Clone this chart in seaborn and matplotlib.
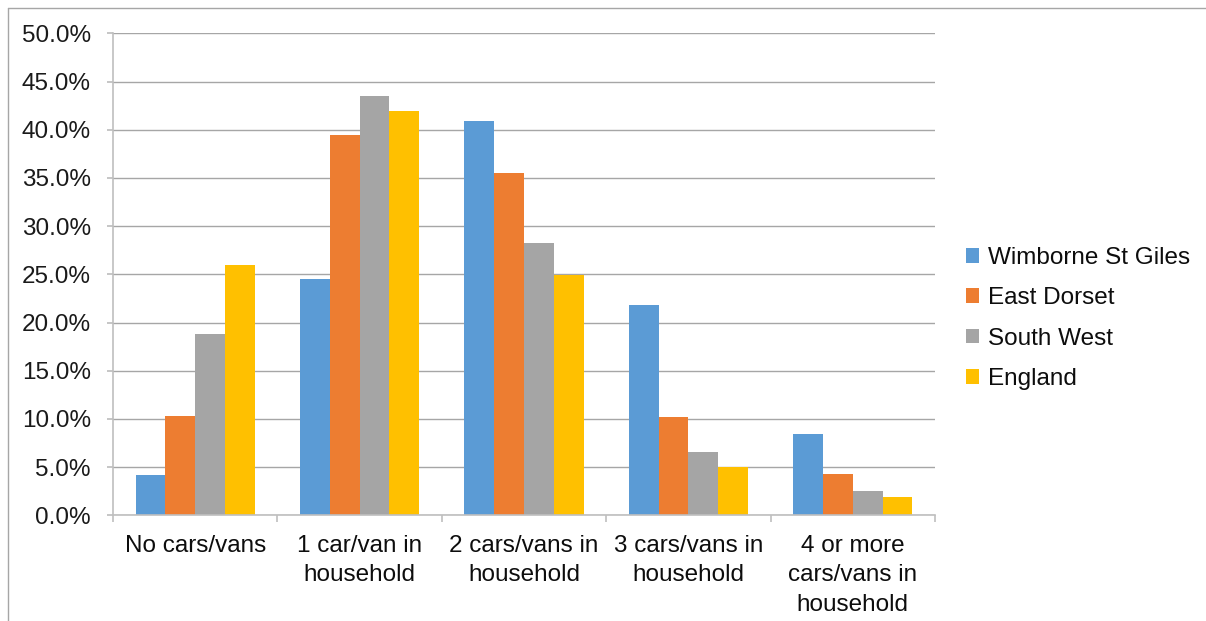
import matplotlib
matplotlib.use("Agg")
import matplotlib.pyplot as plt
import seaborn as sns
import pandas as pd
from matplotlib.ticker import FuncFormatter, MultipleLocator, FixedLocator
from matplotlib.lines import Line2D

categories = ["No cars/vans", "1 car/van in\nhousehold", "2 cars/vans in\nhousehold",
              "3 cars/vans in\nhousehold", "4 or more\ncars/vans in\nhousehold"]
series = ["Wimborne St Giles", "East Dorset", "South West", "England"]
wimborne = [4.2, 24.5, 40.9, 21.8, 8.4]
east_dorset = [10.3, 39.5, 35.5, 10.2, 4.3]
south_west = [18.8, 43.5, 28.2, 6.6, 2.5]
england = [26.0, 41.9, 24.9, 5.0, 1.9]
colors = ["#5B9BD5", "#ED7D31", "#A5A5A5", "#FFC000"]

rows = []
for name, vals in zip(series, [wimborne, east_dorset, south_west, england]):
    for c, v in zip(categories, vals):
        rows.append({"category": c, "series": name, "value": v})
df = pd.DataFrame(rows)

sns.set_theme(style="white")
plt.rcParams["font.family"] = ["Liberation Sans", "DejaVu Sans"]

fig = plt.figure(figsize=(12.06, 6.21), dpi=100)
ax = fig.add_axes([113/1206, 1 - 515.3/621, (935 - 113)/1206, (515.3 - 33.3)/621])

sns.barplot(data=df, x="category", y="value", hue="series", order=categories,
            hue_order=series, palette=colors, width=0.726, gap=0, saturation=1,
            edgecolor="none", linewidth=0, ax=ax)

ax.set_ylim(0, 50)
ax.set_xlim(-0.5, len(categories) - 0.5)
ax.yaxis.set_major_locator(MultipleLocator(5))
ax.yaxis.set_major_formatter(FuncFormatter(lambda v, p: f"{v:.1f}%"))
ax.grid(axis="y", color="#a6a6a6", linewidth=1.0)
ax.set_axisbelow(True)
ax.set_xlabel("")
ax.set_ylabel("")

for s in ["top", "right"]:
    ax.spines[s].set_visible(False)
for s in ["left", "bottom"]:
    ax.spines[s].set_color("#bfbfbf")
    ax.spines[s].set_linewidth(1.2)

ax.tick_params(axis="y", which="major", left=True, length=4, color="#bfbfbf",
               labelsize=17.5, pad=12, labelcolor="#1a1a1a")
ax.tick_params(axis="x", which="major", bottom=False, length=0, labelsize=17.5,
               pad=14, labelcolor="#0d0d0d")
ax.xaxis.set_minor_locator(FixedLocator([i - 0.5 for i in range(len(categories) + 1)]))
ax.tick_params(axis="x", which="minor", bottom=True, length=5, color="#bfbfbf", width=1.2)
for lbl in ax.get_xticklabels():
    lbl.set_verticalalignment("top")
    lbl.set_linespacing(1.45)

handles, labels = ax.get_legend_handles_labels()
if ax.get_legend() is not None:
    ax.get_legend().remove()
fig.legend(handles, labels, loc="center left", bbox_to_anchor=(966/1206, 1 - 318.5/621),
           frameon=False, fontsize=17.5, handlelength=0.55, handleheight=0.55,
           handletextpad=0.35, labelspacing=0.75, borderpad=0, borderaxespad=0,
           labelcolor="#0d0d0d")

# outer chart border
fig.add_artist(Line2D([8/1206, 8/1206], [0, 1 - 8/621], color="#a6a6a6", linewidth=1, transform=fig.transFigure))
fig.add_artist(Line2D([8/1206, 1], [1 - 8/621, 1 - 8/621], color="#a6a6a6", linewidth=1, transform=fig.transFigure))

fig.savefig("out.png", dpi=100)
